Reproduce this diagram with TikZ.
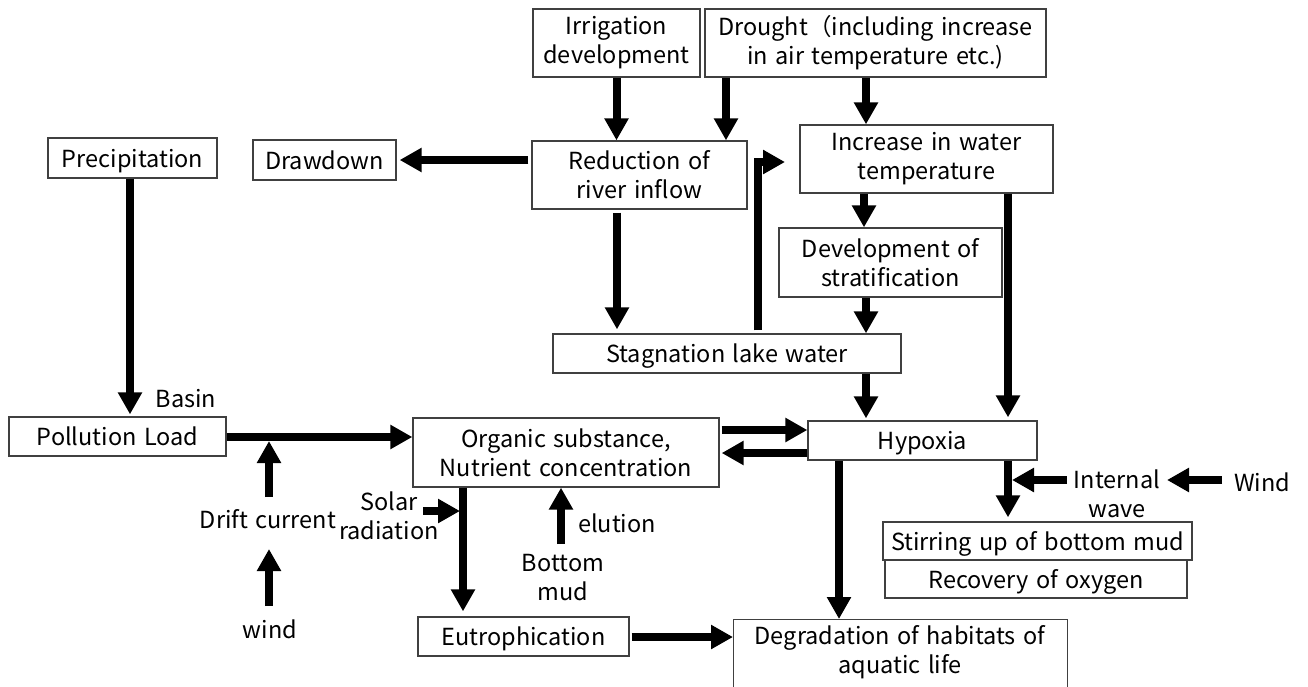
\documentclass[tikz,border=0pt]{standalone}
\usepackage{fontspec}
\setmainfont{Noto Sans CJK JP}[WordSpace=1.4]
\usetikzlibrary{arrows.meta,calc}
\newcommand\fsz{\fontsize{23.5}{29}\selectfont}
\begin{document}
\begin{tikzpicture}[x=1pt,y=-1pt,
  box/.style={draw=black!75, line width=1.3pt, inner sep=0pt, align=center, font=\fsz},
  one/.style={text depth=0pt},
  arr/.style={line width=8pt, -{Triangle[width=23pt,length=22pt]}},
  lbl/.style={inner sep=0pt, align=center, font=\fsz}]
\useasboundingbox (0,0) rectangle (1308,686);
% boxes
\node[box,minimum width=167pt,minimum height=68pt] (irr) at (616.5,43) {Irrigation\\development};
\node[box,minimum width=341pt,minimum height=68pt] (dro) at (875.5,43) {Drought（including increase\\in air temperature etc.)};
\node[box,one,minimum width=169pt,minimum height=40pt] (pre) at (132.5,158) {Precipitation};
\node[box,one,minimum width=143pt,minimum height=40pt] (drw) at (324.5,160) {Drawdown};
\node[box,minimum width=215pt,minimum height=68pt] (red) at (639.5,175) {Reduction of\\river inflow};
\node[box,minimum width=253pt,minimum height=68pt] (inc) at (926.5,159) {Increase in water\\temperature};
\node[box,minimum width=223pt,minimum height=69pt] (dev) at (890.5,262.5) {Development of\\stratification};
\node[box,one,minimum width=348pt,minimum height=39pt] (stag) at (727,353.5) {Stagnation lake water};
\node[box,one,minimum width=217pt,minimum height=39pt] (poll) at (117.5,436.5) {Pollution Load};
\node[box,minimum width=306pt,minimum height=69pt] (org) at (566,452.5) {Organic substance,\\Nutrient concentration};
\node[box,one,minimum width=229pt,minimum height=39pt] (hyp) at (922.5,440.5) {Hypoxia};
\node[box,one,minimum width=309pt,minimum height=38pt] (stir) at (1037.5,541) {Stirring up of bottom mud};
\node[box,one,minimum width=302pt,minimum height=38pt] (rec) at (1036,579) {Recovery of oxygen};
\node[box,one,minimum width=211pt,minimum height=39pt] (eut) at (523.5,636.5) {Eutrophication};
\node[box,anchor=north west,minimum width=334pt,minimum height=90pt] (deg) at (733,619) {};
\node[lbl] (degt) at (900,652) {Degradation of habitats of\\aquatic life};
% labels
\node[lbl,one] (basin) at (186,398) {Basin};
\node[lbl,one] (drift) at (268,519) {Drift current};
\node[lbl,one] (wind) at (270,629) {wind};
\node[lbl] (solar) at (389,516) {Solar\\radiation};
\node[lbl,one] (elu) at (617,523) {elution};
\node[lbl] (mud) at (563,578) {Bottom\\mud};
\node[lbl] (intw) at (1117,494) {Internal\\wave};
\node[lbl,one] (wind2) at (1262,482) {Wind};
% helper coordinates
\coordinate (x130) at (130,0);
\coordinate (x616) at (617,0);
\coordinate (x726) at (726,0);
\coordinate (x758) at (758,0);
\coordinate (x864) at (864,0);
\coordinate (x866) at (866,0);
\coordinate (x463) at (463,0);
\coordinate (x561) at (561,0);
\coordinate (x839) at (839,0);
\coordinate (x1008) at (1008,0);
\coordinate (y160) at (0,160);
\coordinate (y437) at (0,437);
\coordinate (y430) at (0,430);
\coordinate (y453) at (0,453);
\coordinate (y637) at (0,637);
\coordinate (elbowtip) at (785,162);
\coordinate (dj) at (269,441);
\coordinate (djb) at (269,497);
\coordinate (wb) at (269,606);
\coordinate (wt) at (269,549);
\coordinate (sol) at (423,511);
\coordinate (solt) at (460,511);
\coordinate (mb) at (561,544);
\coordinate (iw) at (1067,480);
\coordinate (iwt) at (1012,480);
\coordinate (w2) at (1222,480);
\coordinate (w2t) at (1167,480);
% arrows
\draw[arr] (irr.south) -- (irr.south |- red.north);
\draw[arr] (dro.south -| x726) -- (red.north -| x726);
\draw[arr] (dro.south -| x866) -- (inc.north -| x866);
\draw[arr, shorten <=3pt, shorten >=3pt] (red.west |- y160) -- (drw.east |- y160);
\draw[arr, shorten <=3pt, shorten >=4pt] (red.south -| x616) -- (stag.north -| x616);
\draw[arr, shorten <=3pt] (stag.north -| x758) |- (elbowtip);
\draw[arr] (inc.south -| x864) -- (dev.north -| x864);
\draw[arr, shorten >=3pt] (inc.south -| x1008) -- (hyp.north -| x1008);
\draw[arr] (dev.south -| x866) -- (stag.north -| x866);
\draw[arr, shorten >=2pt] (stag.south -| x866) -- (hyp.north -| x866);
\draw[arr, shorten >=2pt] (pre.south -| x130) -- (poll.north -| x130);
\draw[arr] (poll.east |- y437) -- (org.west |- y437);
\draw[arr] (djb) -- (dj);
\draw[arr] (wb) -- (wt);
\draw[arr, shorten <=2pt] (org.east |- y430) -- (hyp.west |- y430);
\draw[arr, shorten >=2pt] (hyp.west |- y453) -- (org.east |- y453);
\draw[arr, shorten >=5pt] (org.south -| x463) -- (eut.north -| x463);
\draw[arr] (sol) -- (solt);
\draw[arr] (mb) -- (org.south -| x561);
\draw[arr, shorten <=2pt] (eut.east |- y637) -- (deg.west |- y637);
\draw[arr] (hyp.south -| x839) -- (deg.north -| x839);
\draw[arr, shorten >=4pt] (hyp.south -| x1008) -- (stir.north -| x1008);
\draw[arr] (iw) -- (iwt);
\draw[arr] (w2) -- (w2t);
\end{tikzpicture}
\end{document}
